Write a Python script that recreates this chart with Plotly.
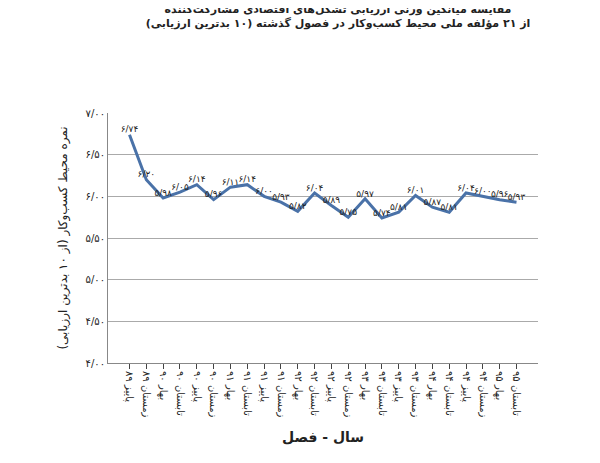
import plotly.graph_objects as go

seasons = ["پاییز ۸۹","زمستان ۸۹","بهار ۹۰","تابستان ۹۰","پاییز ۹۰","زمستان ۹۰","بهار ۹۱","تابستان ۹۱",
           "پاییز ۹۱","زمستان ۹۱","بهار ۹۲","تابستان ۹۲","پاییز ۹۲","زمستان ۹۲","بهار ۹۳","تابستان ۹۳",
           "پاییز ۹۳","زمستان ۹۳","بهار ۹۴","تابستان ۹۴","پاییز ۹۴","زمستان ۹۴","بهار ۹۵","تابستان ۹۵"]
values = [6.74,6.20,5.98,6.05,6.14,5.96,6.11,6.14,6.00,5.93,5.82,6.04,5.89,5.75,5.97,5.74,
          5.81,6.01,5.87,5.81,6.04,6.00,5.96,5.93]
yticks = [4.0,4.5,5.0,5.5,6.0,6.5,7.0]

def fa(v):
    s = f"{v:.2f}".replace(".", "/")
    return s.translate(str.maketrans("0123456789","۰۱۲۳۴۵۶۷۸۹"))

fig = go.Figure(go.Scatter(x=seasons, y=values, mode="lines+text", text=[fa(v) for v in values],
    textposition="top center", textfont=dict(size=9, color="#222"),
    line=dict(color="#4a72a8", width=3), cliponaxis=False))
fig.update_layout(width=600, height=463, plot_bgcolor="white", paper_bgcolor="white",
    margin=dict(l=100, r=70, t=105, b=108), showlegend=False,
    font=dict(family="DejaVu Sans", color="#222"),
    title=dict(text="<b>مقایسه میانگین وزنی ارزیابی تشکل‌های اقتصادی مشارکت‌کننده</b><br><b>از ۲۱ مؤلفه ملی محیط کسب‌وکار در فصول گذشته (۱۰ بدترین ارزیابی)</b>",
               x=0.55, xanchor="center", y=0.99, yanchor="top", font=dict(size=11)),
    xaxis=dict(tickangle=90, tickfont=dict(size=10), showline=True, linecolor="#888", ticks="outside",
               title=dict(text="<b>سال - فصل</b>", font=dict(size=14)), showgrid=False),
    yaxis=dict(range=[4,7], tickvals=yticks, ticktext=[fa(v) for v in yticks], tickfont=dict(size=10),
               showgrid=True, gridcolor="#aaa", showline=True, linecolor="#888",
               title=dict(text="نمره محیط کسب‌وکار (از ۱۰ بدترین ارزیابی)", font=dict(size=12))))
fig.write_html("out.html")
